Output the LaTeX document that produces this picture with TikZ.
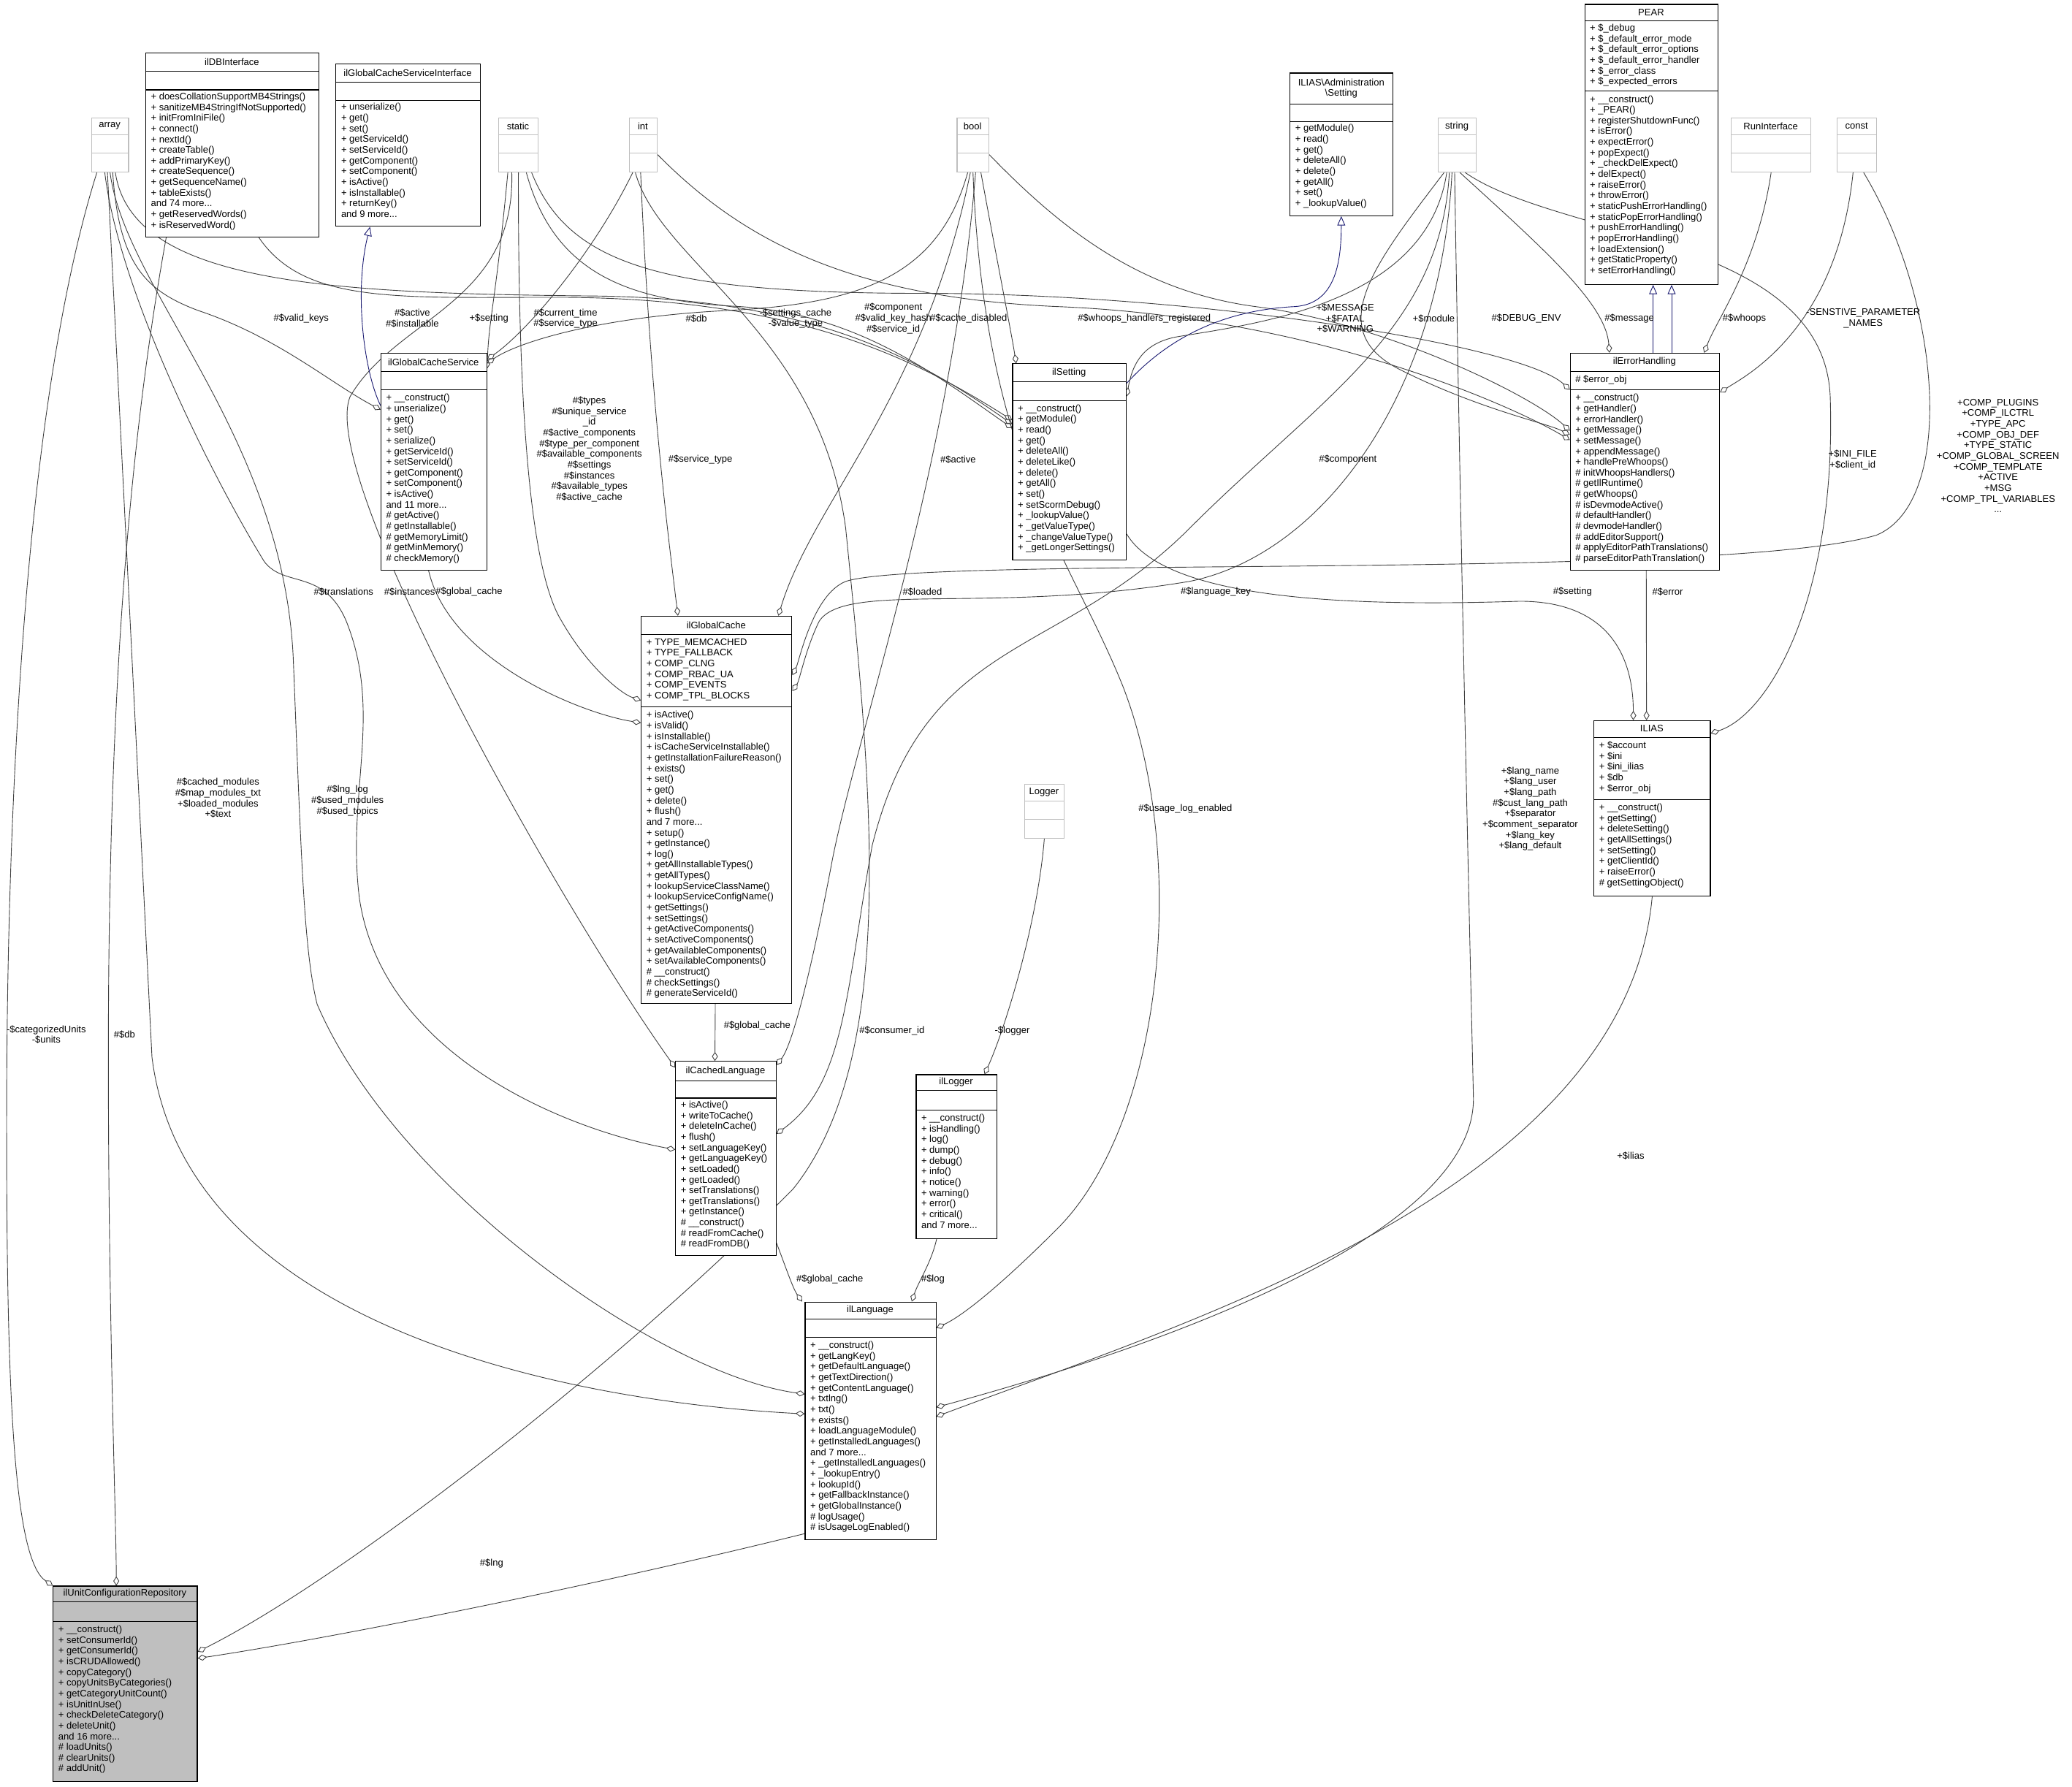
\documentclass[tikz,border=0pt]{standalone}
\usepackage{fontspec}
\setmainfont{Liberation Sans}
\usetikzlibrary{arrows.meta,calc}
\definecolor{gr}{HTML}{BFBFBF}
\definecolor{edgec}{HTML}{404040}
\definecolor{inhc}{HTML}{191970}
\pgfdeclarelayer{bg}\pgfsetlayers{bg,main}
\tikzset{
 box/.style={draw=black,line width=0.6pt,fill=white,inner sep=0pt,anchor=north west},
 txt/.style={inner sep=0pt,anchor=north west,align=left,font=\fontsize{7.2}{8.1}\selectfont},
 ttxt/.style={inner sep=0pt,anchor=center,align=center,font=\fontsize{7.2}{8.1}\selectfont},
 lbl/.style={inner sep=0pt,anchor=center,align=center,font=\fontsize{7.2}{8.1}\selectfont},
 agg/.style={draw=edgec,line width=0.5pt,-{Diamond[open,length=7pt,width=4.5pt]}},
 inh/.style={draw=inhc,line width=0.5pt,-{Triangle[open,length=7pt,width=6pt]}},
}
\newcommand\cls[8]{%
 \node[box,#8,minimum width=#4pt,minimum height={#5pt+#6pt+#7pt}] (#1) at (#2,#3) {};
 \draw[line width=0.6pt,#8] (#2,#3+#5) -- ++(#4,0) (#2,#3+#5+#6) -- ++(#4,0);
}
\newcommand\ttl[4]{\node[ttxt] (#1) at (#2,#3) {#4};}
\newcommand\mem[4]{\node[txt] (#1) at (#2,#3) {#4};}
\begin{document}
\begin{tikzpicture}[x=1pt,y=-1pt]
\useasboundingbox (0,0) rectangle (1568,1352);
% type boxes
\cls{array}{69}{89}{28}{13}{14}{14}{draw=gr}\ttl{array-t}{83}{95.5}{array}
\cls{static}{377}{89}{30}{13}{14}{14}{draw=gr}\ttl{static-t}{392}{95.5}{static}
\cls{int}{476}{89}{21}{13}{14}{14}{draw=gr}\ttl{int-t}{486.5}{95.5}{int}
\cls{bool}{724}{89}{24}{13}{14}{14}{draw=gr}\ttl{bool-t}{736}{95.5}{bool}
\cls{string}{1088}{89}{29}{13}{14}{14}{draw=gr}\ttl{string-t}{1102.5}{95.5}{string}
\cls{run}{1310}{89}{60}{13}{14}{14}{draw=gr}\ttl{run-t}{1340}{95.5}{RunInterface}
\cls{const}{1390}{89}{30}{13}{14}{14}{draw=gr}\ttl{const-t}{1405}{95.5}{const}
\cls{logger}{775}{593}{30}{13}{14}{14}{draw=gr}\ttl{logger-t}{790}{599.5}{Logger}
% classes
\cls{dbi}{110}{40}{131}{14}{14}{111}{}
\ttl{dbi-t}{175.5}{47}{ilDBInterface}
\mem{dbi-b}{114}{70}{+ doesCollationSupportMB4Strings()\\+ sanitizeMB4StringIfNotSupported()\\+ initFromIniFile()\\+ connect()\\+ nextId()\\+ createTable()\\+ addPrimaryKey()\\+ createSequence()\\+ getSequenceName()\\+ tableExists()\\and 74 more...\\+ getReservedWords()\\+ isReservedWord()}
\cls{gcsi}{254}{48}{109}{14}{14}{95}{}
\ttl{gcsi-t}{308.5}{55}{ilGlobalCacheServiceInterface}
\mem{gcsi-b}{258}{78}{+ unserialize()\\+ get()\\+ set()\\+ getServiceId()\\+ setServiceId()\\+ getComponent()\\+ setComponent()\\+ isActive()\\+ isInstallable()\\+ returnKey()\\and 9 more...}
\cls{gcs}{288}{267}{80}{14}{14}{136}{}
\ttl{gcs-t}{328}{274}{ilGlobalCacheService}
\mem{gcs-b}{292}{298}{+ \_\_construct()\\+ unserialize()\\+ get()\\+ set()\\+ serialize()\\+ getServiceId()\\+ setServiceId()\\+ getComponent()\\+ setComponent()\\+ isActive()\\and 11 more...\\\# getActive()\\\# getInstallable()\\\# getMemoryLimit()\\\# getMinMemory()\\\# checkMemory()}
\cls{ias}{976}{55}{78}{24}{13}{71}{}
\ttl{ias-t}{1015}{67}{ILIAS\textbackslash Administration\\\textbackslash Setting}
\mem{ias-b}{980}{94}{+ getModule()\\+ read()\\+ get()\\+ deleteAll()\\+ delete()\\+ getAll()\\+ set()\\+ \_lookupValue()}
\cls{pear}{1199}{3}{101}{13}{53}{146}{}
\ttl{pear-t}{1249.5}{9.5}{PEAR}
\mem{pear-a}{1203}{18}{+ \$\_debug\\+ \$\_default\_error\_mode\\+ \$\_default\_error\_options\\+ \$\_default\_error\_handler\\+ \$\_error\_class\\+ \$\_expected\_errors}
\mem{pear-b}{1203}{72}{+ \_\_construct()\\+ \_PEAR()\\+ registerShutdownFunc()\\+ isError()\\+ expectError()\\+ popExpect()\\+ \_checkDelExpect()\\+ delExpect()\\+ raiseError()\\+ throwError()\\+ staticPushErrorHandling()\\+ staticPopErrorHandling()\\+ pushErrorHandling()\\+ popErrorHandling()\\+ loadExtension()\\+ getStaticProperty()\\+ setErrorHandling()}
\cls{set}{766}{275}{86}{14}{14.5}{120}{}
\ttl{set-t}{809}{282}{ilSetting}
\mem{set-b}{770}{306}{+ \_\_construct()\\+ getModule()\\+ read()\\+ get()\\+ deleteAll()\\+ deleteLike()\\+ delete()\\+ getAll()\\+ set()\\+ setScormDebug()\\+ \_lookupValue()\\+ \_getValueType()\\+ \_changeValueType()\\+ \_getLongerSettings()}
\cls{err}{1188}{267}{113}{14}{14}{136}{}
\ttl{err-t}{1244.5}{274}{ilErrorHandling}
\mem{err-a}{1192}{284}{\# \$error\_obj}
\mem{err-b}{1192}{298}{+ \_\_construct()\\+ getHandler()\\+ errorHandler()\\+ getMessage()\\+ setMessage()\\+ appendMessage()\\+ handlePreWhoops()\\\# initWhoopsHandlers()\\\# getIlRuntime()\\\# getWhoops()\\\# isDevmodeActive()\\\# defaultHandler()\\\# devmodeHandler()\\\# addEditorSupport()\\\# applyEditorPathTranslations()\\\# parseEditorPathTranslation()}
\cls{gc}{485}{466}{114}{14}{55}{224}{}
\ttl{gc-t}{542}{473}{ilGlobalCache}
\mem{gc-a}{489}{483}{+ TYPE\_MEMCACHED\\+ TYPE\_FALLBACK\\+ COMP\_CLNG\\+ COMP\_RBAC\_UA\\+ COMP\_EVENTS\\+ COMP\_TPL\_BLOCKS}
\mem{gc-b}{489}{538}{+ isActive()\\+ isValid()\\+ isInstallable()\\+ isCacheServiceInstallable()\\+ getInstallationFailureReason()\\+ exists()\\+ set()\\+ get()\\+ delete()\\+ flush()\\and 7 more...\\+ setup()\\+ getInstance()\\+ log()\\+ getAllInstallableTypes()\\+ getAllTypes()\\+ lookupServiceClassName()\\+ lookupServiceConfigName()\\+ getSettings()\\+ setSettings()\\+ getActiveComponents()\\+ setActiveComponents()\\+ getAvailableComponents()\\+ setAvailableComponents()\\\# \_\_construct()\\\# checkSettings()\\\# generateServiceId()}
\cls{cl}{511}{803}{76}{15}{13}{119}{}
\ttl{cl-t}{549}{810.5}{ilCachedLanguage}
\mem{cl-b}{515}{833}{+ isActive()\\+ writeToCache()\\+ deleteInCache()\\+ flush()\\+ setLanguageKey()\\+ getLanguageKey()\\+ setLoaded()\\+ getLoaded()\\+ setTranslations()\\+ getTranslations()\\+ getInstance()\\\# \_\_construct()\\\# readFromCache()\\\# readFromDB()}
\cls{lng}{609}{985}{99}{13}{14}{153}{}
\ttl{lng-t}{658.5}{991.5}{ilLanguage}
\mem{lng-b}{613}{1015}{+ \_\_construct()\\+ getLangKey()\\+ getDefaultLanguage()\\+ getTextDirection()\\+ getContentLanguage()\\+ txtlng()\\+ txt()\\+ exists()\\+ loadLanguageModule()\\+ getInstalledLanguages()\\and 7 more...\\+ \_getInstalledLanguages()\\+ \_lookupEntry()\\+ lookupId()\\+ getFallbackInstance()\\+ getGlobalInstance()\\\# logUsage()\\\# isUsageLogEnabled()}
\cls{log}{693}{813}{61}{12}{15}{97}{}
\ttl{log-t}{723.5}{819}{ilLogger}
\mem{log-b}{697}{843}{+ \_\_construct()\\+ isHandling()\\+ log()\\+ dump()\\+ debug()\\+ info()\\+ notice()\\+ warning()\\+ error()\\+ critical()\\and 7 more...}
\cls{ilias}{1206}{545}{88}{13}{47}{73}{}
\ttl{ilias-t}{1250}{551.5}{ILIAS}
\mem{ilias-a}{1210}{561}{+ \$account\\+ \$ini\\+ \$ini\_ilias\\+ \$db\\+ \$error\_obj}
\mem{ilias-b}{1210}{608}{+ \_\_construct()\\+ getSetting()\\+ deleteSetting()\\+ getAllSettings()\\+ setSetting()\\+ getClientId()\\+ raiseError()\\\# getSettingObject()}
\cls{unit}{40}{1200}{109}{12}{15}{121}{fill=gr}
\ttl{unit-t}{94.5}{1206}{ilUnitConfigurationRepository}
\mem{unit-b}{44}{1230}{+ \_\_construct()\\+ setConsumerId()\\+ getConsumerId()\\+ isCRUDAllowed()\\+ copyCategory()\\+ copyUnitsByCategories()\\+ getCategoryUnitCount()\\+ isUnitInUse()\\+ checkDeleteCategory()\\+ deleteUnit()\\and 16 more...\\\# loadUnits()\\\# clearUnits()\\\# addUnit()}
% edges
\begin{pgfonlayer}{bg}
\draw[agg] ([xshift=-10pt]array.south) .. controls (20,300) and (5,600) .. (5,850) .. controls (5,1050) and (10,1180) .. (unit.north west);
\draw[agg] ([xshift=-50pt]dbi.south) .. controls (95,350) and (82,550) .. (82,800) .. controls (82,1000) and (88,1150) .. ([xshift=48pt]unit.north west);
\draw[agg] ([yshift=5pt]lng.south west) .. controls (450,1200) and (250,1240) .. ([yshift=-55pt]unit.north east);
\draw[agg] ([xshift=-2pt]array.south) .. controls (90,300) and (100,500) .. (115,800) .. controls (140,1000) and (420,1060) .. ([yshift=-85pt]lng.north west);
\draw[agg] (array.south) .. controls (95,220) and (215,330) .. (222,500) .. controls (228,650) and (230,720) .. (240,760) .. controls (300,900) and (500,1040) .. ([yshift=-70pt]lng.north west);
\draw[agg] ([xshift=-4pt]array.south) .. controls (90,220) and (160,360) .. (200,425) .. controls (215,445) and (245,430) .. (262,470) .. controls (290,540) and (262,600) .. (272,680) .. controls (290,800) and (430,855) .. ([yshift=-67pt]cl.north west);
\draw[agg] ([xshift=2pt]array.south) .. controls (90,200) and (110,220) .. (150,235) .. controls (210,255) and (250,290) .. ([yshift=-43pt]gcs.north west);
\draw[agg] ([xshift=-5pt]static.south) .. controls (390,230) and (300,240) .. (265,300) .. controls (240,360) and (420,680) .. ([yshift=-5pt]cl.north west);
\draw[agg] ([xshift=-4pt]gcs.south) .. controls (340,500) and (440,540) .. ([yshift=-81pt]gc.north west);
\draw[agg] (static.south) .. controls (392,300) and (400,430) .. (425,470) .. controls (445,505) and (470,525) .. ([yshift=-64pt]gc.north west);
\draw[agg] ([xshift=-2pt]int.south) .. controls (492,300) and (505,400) .. ([xshift=28pt]gc.north west);
\draw[agg] ([xshift=-2pt]bool.south) .. controls (700,300) and (615,380) .. ([xshift=104pt]gc.north west);
\draw[agg] ([xshift=-8pt]int.south) .. controls (450,190) and (400,250) .. ([yshift=-5pt]gcs.north east);
\draw[agg] ([xshift=-8pt]static.south) .. controls (375,230) and (370,240) .. ([yshift=-12pt]gcs.north east);
\draw[inh] ([yshift=-40pt]gcs.north west) .. controls (275,280) and (268,220) .. ([xshift=26pt]gcsi.south west);
\draw[agg] ([xshift=20pt]dbi.south) .. controls (230,230) and (300,225) .. (420,225) .. controls (600,225) and (690,270) .. ([yshift=-43pt]set.north west);
\draw[agg] ([xshift=4pt]array.south) .. controls (100,215) and (250,222) .. (450,224) .. controls (620,226) and (700,275) .. ([yshift=-46pt]set.north west);
\draw[agg] ([xshift=6pt]static.south) .. controls (420,210) and (480,228) .. (560,232) .. controls (650,238) and (710,285) .. ([yshift=-49pt]set.north west);
\draw[agg] ([yshift=-28pt]int.north east) .. controls (560,180) and (640,225) .. (800,232) .. controls (1000,240) and (1150,310) .. ([yshift=-66pt]err.north west);
\draw[agg] ([yshift=-28pt]bool.north east) .. controls (800,170) and (860,220) .. (950,232) .. controls (1050,245) and (1160,300) .. ([yshift=-59pt]err.north west);
\draw[agg] ([xshift=10pt]static.south) .. controls (430,200) and (500,222) .. (700,222) .. controls (900,222) and (1150,260) .. ([yshift=-28pt]err.north west);
\draw[agg] ([xshift=2pt]string.south) .. controls (1170,190) and (1215,230) .. ([xshift=30pt]err.north west);
\draw[inh] ([xshift=63pt]err.north west) -- ([xshift=52pt]pear.south west);
\draw[inh] ([xshift=77pt]err.north west) -- ([xshift=66pt]pear.south west);
\draw[agg] (run.south) .. controls (1330,200) and (1300,240) .. ([xshift=-12pt]err.north east);
\draw[agg] ([xshift=-3pt]const.south) .. controls (1390,250) and (1320,285) .. ([yshift=-30pt]err.north east);
\draw[agg] ([xshift=6pt]string.south) .. controls (1180,180) and (1380,180) .. (1385,300) .. controls (1390,450) and (1340,540) .. ([yshift=-10pt]ilias.north east);
\draw[agg] ([xshift=5pt]const.south) .. controls (1470,230) and (1480,380) .. (1420,405) .. controls (1300,440) and (700,420) .. (640,440) .. controls (615,450) and (605,500) .. ([yshift=-45pt]gc.north east);
\draw[agg] ([xshift=-4pt]string.south) .. controls (1090,300) and (1000,420) .. (900,440) .. controls (750,465) and (640,440) .. (620,470) .. controls (610,490) and (605,515) .. ([yshift=-57pt]gc.north east);
\draw[agg] ([xshift=-6pt]string.south) .. controls (1090,250) and (1000,300) .. (900,400) .. controls (800,500) and (700,480) .. (660,640) .. controls (640,750) and (640,820) .. ([yshift=-55pt]cl.north east);
\draw[agg] ([xshift=2pt]bool.south) .. controls (720,350) and (650,550) .. (630,650) .. controls (615,730) and (600,790) .. ([yshift=-3pt]cl.north east);
\draw[agg] ([yshift=20pt]set.south east) .. controls (880,450) and (1000,460) .. (1150,455) .. controls (1220,455) and (1236,500) .. ([xshift=30pt]ilias.north west);
\draw[agg] ([xshift=1pt]err.south) -- ([xshift=40pt]ilias.north west);
\draw[agg] (ilias.south) .. controls (1230,900) and (900,1000) .. ([yshift=-87pt]lng.north east);
\draw[agg] ([xshift=-2pt]string.south) .. controls (1105,400) and (1112,700) .. (1115,830) .. controls (1118,950) and (800,1040) .. ([yshift=-80pt]lng.north east);
\draw[agg] (bool.south) .. controls (745,350) and (810,420) .. (850,520) .. controls (900,650) and (880,850) .. (800,930) .. controls (760,970) and (730,995) .. ([yshift=-20pt]lng.north east);
\draw[agg] (logger.south) .. controls (785,700) and (760,780) .. ([xshift=52pt]log.north west);
\draw[agg] ([xshift=-15pt]log.south) .. controls (705,955) and (695,970) .. ([xshift=81pt]lng.north west);
\draw[agg] ([yshift=10pt]cl.south east) .. controls (595,960) and (600,975) .. ([xshift=-2pt]lng.north west);
\draw[agg] ([xshift=-1pt]gc.south) -- ([xshift=30pt]cl.north west);
\draw[agg] ([xshift=-6pt]int.south) .. controls (500,200) and (620,250) .. (640,400) .. controls (660,600) and (680,800) .. (600,900) .. controls (450,1050) and (250,1200) .. ([yshift=-50pt]unit.north east);
\draw[agg] ([xshift=6pt]bool.south) .. controls (755,200) and (765,250) .. ([xshift=3pt]set.north west);
\draw[agg] ([xshift=-4pt]bool.south) .. controls (710,210) and (650,230) .. (550,235) .. controls (450,240) and (390,260) .. ([yshift=-8pt]gcs.north east);
\draw[inh] ([yshift=-15pt]set.north east) .. controls (880,260) and (920,235) .. (980,232) .. controls (1010,230) and (1015,200) .. ([xshift=39pt]ias.south west);
\draw[agg] ([xshift=-8pt]string.south) .. controls (1080,230) and (950,245) .. (890,255) .. controls (865,260) and (857,275) .. ([yshift=-25pt]set.north east);
\draw[agg] ([xshift=-10pt]string.south) .. controls (1040,200) and (1000,250) .. (1060,280) .. controls (1120,310) and (1170,320) .. ([yshift=-62pt]err.north west);
\end{pgfonlayer}
% labels
\node[lbl] (L1) at (228,241) {\#\$valid\_keys};
\node[lbl] (L2) at (312,241) {\#\$active\\\#\$installable};
\node[lbl] (L3) at (370,241) {+\$setting};
\node[lbl] (L4) at (428,241) {\#\$current\_time\\\#\$service\_type};
\node[lbl] (L5) at (527,241) {\#\$db};
\node[lbl] (L6) at (602,241) {-\$settings\_cache\\-\$value\_type};
\node[lbl] (L7) at (676,241) {\#\$component\\\#\$valid\_key\_hash\\\#\$service\_id};
\node[lbl] (L8) at (733,241) {\#\$cache\_disabled};
\node[lbl] (L9) at (866,241) {\#\$whoops\_handlers\_registered};
\node[lbl] (L10) at (1018,241) {+\$MESSAGE\\+\$FATAL\\+\$WARNING};
\node[lbl] (L11) at (1085,241) {+\$module};
\node[lbl] (L12) at (1155,241) {\#\$DEBUG\_ENV};
\node[lbl] (L13) at (1233,241) {\#\$message};
\node[lbl] (L14) at (1320,241) {\#\$whoops};
\node[lbl] (L15) at (1410,241) {-SENSTIVE\_PARAMETER\\\_NAMES};
\node[lbl] (L16) at (446,340) {\#\$types\\\#\$unique\_service\\\_id\\\#\$active\_components\\\#\$type\_per\_component\\\#\$available\_components\\\#\$settings\\\#\$instances\\\#\$available\_types\\\#\$active\_cache};
\node[lbl] (L17) at (530,348) {\#\$service\_type};
\node[lbl] (L18) at (725,348) {\#\$active};
\node[lbl] (L19) at (1020,348) {\#\$component};
\node[lbl] (L20) at (1402,348) {+\$INI\_FILE\\+\$client\_id};
\node[lbl] (L21) at (1512,345) {+COMP\_PLUGINS\\+COMP\_ILCTRL\\+TYPE\_APC\\+COMP\_OBJ\_DEF\\+TYPE\_STATIC\\+COMP\_GLOBAL\_SCREEN\\+COMP\_TEMPLATE\\+ACTIVE\\+MSG\\+COMP\_TPL\_VARIABLES\\...};
\node[lbl] (L22) at (260,448) {\#\$translations};
\node[lbl] (L23) at (310,448) {\#\$instances};
\node[lbl] (L24) at (355,448) {\#\$global\_cache};
\node[lbl] (L25) at (698,448) {\#\$loaded};
\node[lbl] (L26) at (920,448) {\#\$language\_key};
\node[lbl] (L27) at (1190,448) {\#\$setting};
\node[lbl] (L28) at (1262,448) {\#\$error};
\node[lbl] (L29) at (165,604) {\#\$cached\_modules\\\#\$map\_modules\_txt\\+\$loaded\_modules\\+\$text};
\node[lbl] (L30) at (263,606) {\#\$lng\_log\\\#\$used\_modules\\\#\$used\_topics};
\node[lbl] (L31) at (897,612) {\#\$usage\_log\_enabled};
\node[lbl] (L32) at (1158,612) {+\$lang\_name\\+\$lang\_user\\+\$lang\_path\\\#\$cust\_lang\_path\\+\$separator\\+\$comment\_separator\\+\$lang\_key\\+\$lang\_default};
\node[lbl] (L33) at (35,783) {-\$categorizedUnits\\-\$units};
\node[lbl,anchor=west] (L34) at (86,783) {\#\$db};
\node[lbl] (L35) at (675,780) {\#\$consumer\_id};
\node[lbl] (L36) at (766,780) {-\$logger};
\node[lbl] (L37) at (1234,875) {+\$ilias};
\node[lbl] (L38) at (573,776) {\#\$global\_cache};
\node[lbl] (L39) at (628,968) {\#\$global\_cache};
\node[lbl] (L40) at (706,968) {\#\$log};
\node[lbl] (L41) at (372,1183) {\#\$lng};
\end{tikzpicture}
\end{document}
